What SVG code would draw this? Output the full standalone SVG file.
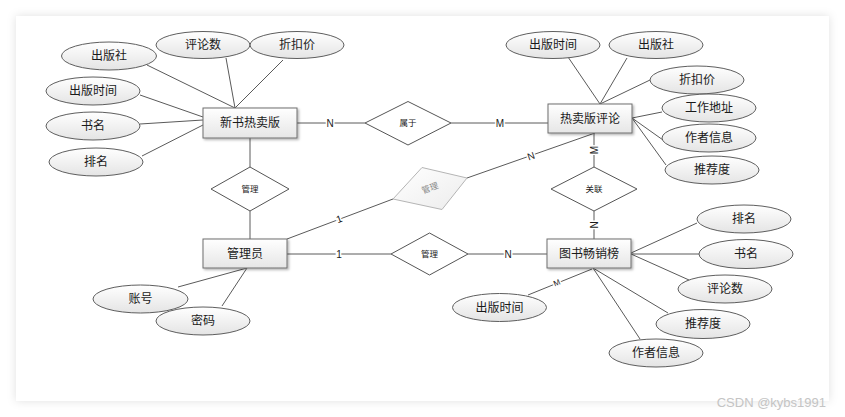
<svg xmlns="http://www.w3.org/2000/svg" width="845" height="417" viewBox="0 0 845 417">
<style>
.ln{stroke:#5a5a5a;stroke-width:1;fill:none}
.ent{fill:url(#gEnt);stroke:#6e6e6e;stroke-width:1;filter:url(#sh)}
.att{fill:url(#gAtt);stroke:#5e5e5e;stroke-width:1}
.rel{fill:#fff;stroke:#555;stroke-width:1}
.relg{fill:url(#gRel);stroke:#b5b5b5;stroke-width:1}
text{font-family:"Liberation Sans","Noto Sans CJK SC",sans-serif;fill:#1a1a1a;text-anchor:middle;dominant-baseline:central}
.t12{font-size:12px}
.t9{font-size:8.5px}
.lb{font-size:10px;stroke:#fff;stroke-width:3px;paint-order:stroke}
.wm{font-size:13px;fill:#c4c4c4;text-anchor:end}
</style>
<defs>
<linearGradient id="gEnt" x1="0" y1="0" x2="0" y2="1"><stop offset="0" stop-color="#ffffff"/><stop offset="1" stop-color="#e6e6e6"/></linearGradient>
<linearGradient id="gAtt" x1="0" y1="0" x2="0" y2="1"><stop offset="0" stop-color="#ffffff"/><stop offset="1" stop-color="#e4e4e4"/></linearGradient>
<linearGradient id="gRel" x1="0" y1="0" x2="1" y2="1"><stop offset="0" stop-color="#ffffff"/><stop offset="1" stop-color="#ececec"/></linearGradient>
<filter id="sh" x="-10%" y="-20%" width="130%" height="150%"><feDropShadow dx="1.5" dy="1.5" stdDeviation="0.8" flood-color="#000" flood-opacity="0.3"/></filter>
<filter id="card" x="-5%" y="-5%" width="110%" height="110%"><feDropShadow dx="0" dy="0" stdDeviation="5" flood-color="#000" flood-opacity="0.12"/></filter>
</defs>
<rect x="0" y="0" width="845" height="417" fill="#fff"/>
<rect x="16" y="16" width="813" height="385" fill="#fff" filter="url(#card)"/>

<g id="connectors">
<!-- 新书热卖版 attributes -->
<line class="ln" x1="147" y1="65" x2="235" y2="108"/>
<line class="ln" x1="226" y1="58" x2="235" y2="108"/>
<line class="ln" x1="283" y1="60" x2="235" y2="108"/>
<line class="ln" x1="140" y1="95" x2="203" y2="117"/>
<line class="ln" x1="140" y1="124" x2="203" y2="120"/>
<line class="ln" x1="142" y1="156" x2="203" y2="125"/>
<!-- 新书热卖版 - 属于 - 热卖版评论 -->
<line class="ln" x1="297" y1="123" x2="365" y2="123"/>
<line class="ln" x1="451" y1="123" x2="548" y2="123"/>
<!-- 新书热卖版 - 管理 - 管理员 -->
<line class="ln" x1="250" y1="138" x2="250" y2="167"/>
<line class="ln" x1="250" y1="211" x2="250" y2="239"/>
<!-- 热卖版评论 attributes -->
<line class="ln" x1="568" y1="57" x2="600" y2="104"/>
<line class="ln" x1="627" y1="58" x2="600" y2="104"/>
<line class="ln" x1="650" y1="80" x2="600" y2="104"/>
<line class="ln" x1="662" y1="112" x2="632" y2="118"/>
<line class="ln" x1="663" y1="140" x2="632" y2="118"/>
<line class="ln" x1="666" y1="165" x2="632" y2="118"/>
<!-- 热卖版评论 - 关联 - 图书畅销榜 -->
<line class="ln" x1="594" y1="133" x2="594" y2="167"/>
<line class="ln" x1="594" y1="211" x2="594" y2="239"/>
<!-- 管理员 - grey 管理 - 热卖版评论 -->
<line class="ln" x1="287" y1="239" x2="393" y2="199"/>
<line class="ln" x1="467" y1="178" x2="595" y2="133"/>
<!-- 管理员 - 管理 - 图书畅销榜 -->
<line class="ln" x1="287" y1="254" x2="391" y2="254"/>
<line class="ln" x1="468" y1="254" x2="547" y2="254"/>
<!-- 管理员 attributes -->
<line class="ln" x1="178" y1="287" x2="247" y2="268"/>
<line class="ln" x1="222" y1="306" x2="247" y2="268"/>
<!-- 图书畅销榜 attributes -->
<line class="ln" x1="697" y1="223" x2="631" y2="253"/>
<line class="ln" x1="631" y1="254" x2="699" y2="254"/>
<line class="ln" x1="631" y1="254" x2="689" y2="280"/>
<line class="ln" x1="593" y1="268" x2="668" y2="313"/>
<line class="ln" x1="593" y1="268" x2="640" y2="339"/>
<line class="ln" x1="528" y1="295" x2="592" y2="269"/>
<!-- labels -->
<text class="lb" x="330" y="123">N</text>
<text class="lb" x="500" y="123">M</text>
<text class="lb" transform="translate(594,150) rotate(-90)">M</text>
<text class="lb" transform="translate(594,225) rotate(-90)">N</text>
<text class="lb" transform="translate(531,156) rotate(-19)">N</text>
<text class="lb" transform="translate(339,219) rotate(-21)">1</text>
<text class="lb" x="339" y="254">1</text>
<text class="lb" x="508" y="254">N</text>
<text class="lb" style="font-size:8px" transform="translate(557,283) rotate(-22)">M</text>
</g>

<g id="attr-xs-chubanshe"><ellipse class="att" cx="109" cy="56" rx="47.5" ry="14"/><text class="t12" x="109" y="56">出版社</text></g>
<g id="attr-xs-pinglunshu"><ellipse class="att" cx="203" cy="45" rx="47" ry="13.5"/><text class="t12" x="203" y="45">评论数</text></g>
<g id="attr-xs-zhekoujia"><ellipse class="att" cx="297" cy="45" rx="47" ry="13.5"/><text class="t12" x="297" y="45">折扣价</text></g>
<g id="attr-xs-chubanshijian"><ellipse class="att" cx="93" cy="91" rx="47" ry="14"/><text class="t12" x="93" y="91">出版时间</text></g>
<g id="attr-xs-shuming"><ellipse class="att" cx="93" cy="126" rx="47" ry="14"/><text class="t12" x="93" y="126">书名</text></g>
<g id="attr-xs-paiming"><ellipse class="att" cx="96" cy="162" rx="47" ry="14"/><text class="t12" x="96" y="162">排名</text></g>

<g id="attr-rp-chubanshijian"><ellipse class="att" cx="553" cy="45" rx="47" ry="13.5"/><text class="t12" x="553" y="45">出版时间</text></g>
<g id="attr-rp-chubanshe"><ellipse class="att" cx="656" cy="45" rx="47" ry="13.5"/><text class="t12" x="656" y="45">出版社</text></g>
<g id="attr-rp-zhekoujia"><ellipse class="att" cx="697" cy="80" rx="47" ry="14"/><text class="t12" x="697" y="80">折扣价</text></g>
<g id="attr-rp-gongzuodizhi"><ellipse class="att" cx="709" cy="108" rx="47" ry="14"/><text class="t12" x="709" y="108">工作地址</text></g>
<g id="attr-rp-zuozhexinxi"><ellipse class="att" cx="709" cy="138" rx="47" ry="14"/><text class="t12" x="709" y="138">作者信息</text></g>
<g id="attr-rp-tuijiandu"><ellipse class="att" cx="712" cy="170" rx="47" ry="14"/><text class="t12" x="712" y="170">推荐度</text></g>

<g id="attr-gl-zhanghao"><ellipse class="att" cx="140.5" cy="299" rx="47.5" ry="14"/><text class="t12" x="140.5" y="299">账号</text></g>
<g id="attr-gl-mima"><ellipse class="att" cx="203" cy="321" rx="47" ry="14"/><text class="t12" x="203" y="321">密码</text></g>

<g id="attr-ts-paiming"><ellipse class="att" cx="744" cy="219" rx="47" ry="14"/><text class="t12" x="744" y="219">排名</text></g>
<g id="attr-ts-shuming"><ellipse class="att" cx="746" cy="254" rx="47" ry="14.5"/><text class="t12" x="746" y="254">书名</text></g>
<g id="attr-ts-pinglunshu"><ellipse class="att" cx="725" cy="289" rx="47" ry="14"/><text class="t12" x="725" y="289">评论数</text></g>
<g id="attr-ts-tuijiandu"><ellipse class="att" cx="703" cy="324" rx="47" ry="14.5"/><text class="t12" x="703" y="324">推荐度</text></g>
<g id="attr-ts-zuozhexinxi"><ellipse class="att" cx="656" cy="353" rx="47" ry="14"/><text class="t12" x="656" y="353">作者信息</text></g>
<g id="attr-ts-chubanshijian"><ellipse class="att" cx="499.5" cy="307.5" rx="47" ry="14"/><text class="t12" x="499.5" y="307.5">出版时间</text></g>

<g id="rel-shuyu"><polygon class="rel" points="365,123 408,101.5 451,123 408,145"/><text class="t9" x="408" y="123">属于</text></g>
<g id="rel-guanli-1"><polygon class="rel" points="211,189 250,167 289,189 250,211"/><text class="t9" x="250" y="189">管理</text></g>
<g id="rel-guanli-grey"><polygon class="relg" points="393,199 422,167.5 467,178 442,209.5"/><text class="t9" style="fill:#8a8a8a" transform="translate(430,188) rotate(-20)">管理</text></g>
<g id="rel-guanli-2"><polygon class="rel" points="391,254 429.5,233 468,254 429.5,275"/><text class="t9" x="429.5" y="254">管理</text></g>
<g id="rel-guanlian"><polygon class="rel" points="551,189 594,167 637,189 594,211"/><text class="t9" x="594" y="189">关联</text></g>

<g id="ent-xinshu"><rect class="ent" x="203" y="108" width="94" height="30"/><text class="t12" x="250" y="123">新书热卖版</text></g>
<g id="ent-remai"><rect class="ent" x="548" y="104" width="84" height="29"/><text class="t12" x="590" y="118.5">热卖版评论</text></g>
<g id="ent-guanliyuan"><rect class="ent" x="203" y="239" width="84" height="29"/><text class="t12" x="245" y="253.5">管理员</text></g>
<g id="ent-tushu"><rect class="ent" x="547" y="239" width="84" height="29"/><text class="t12" x="589" y="253.5">图书畅销榜</text></g>

<text class="wm" x="826" y="402">CSDN @kybs1991</text>
</svg>
